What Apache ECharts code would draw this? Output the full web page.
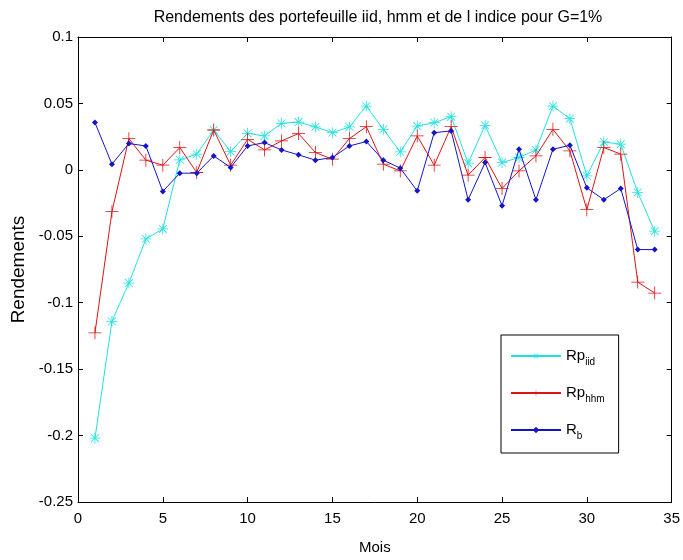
<!DOCTYPE html>
<html>
<head>
<meta charset="utf-8">
<script src="https://cdn.jsdelivr.net/npm/echarts@6/dist/echarts.min.js"></script>
<style>html,body{margin:0;padding:0;background:#fff}#c{width:683px;height:560px}</style>
</head>
<body>
<div id="c"></div>
<script>
const months = [1,2,3,4,5,6,7,8,9,10,11,12,13,14,15,16,17,18,19,20,21,22,23,24,25,26,27,28,29,30,31,32,33,34];
const rpIid = [-0.202, -0.114, -0.0852, -0.052, -0.0445, 0.0075, 0.0118, 0.030, 0.0138, 0.0275, 0.0255, 0.035, 0.036, 0.0323, 0.028, 0.0323, 0.048, 0.0305, 0.0135, 0.033, 0.0355, 0.040, 0.005, 0.0335, 0.0055, 0.0093, 0.015, 0.048, 0.0385, -0.0045, 0.021, 0.0193, -0.017, -0.0462];
const rpHhm = [-0.1227, -0.0315, 0.0235, 0.0073, 0.0035, 0.0168, -0.002, 0.030, 0.0035, 0.023, 0.015, 0.0218, 0.0273, 0.013, 0.008, 0.0235, 0.0325, 0.0043, -0.0008, 0.0255, 0.0035, 0.0325, -0.004, 0.0093, -0.014, -0.0008, 0.0105, 0.0305, 0.0143, -0.030, 0.0168, 0.0118, -0.0845, -0.0927];
const rb = [0.0356, 0.0043, 0.0198, 0.018, -0.0162, -0.0025, -0.0025, 0.0105, 0.0018, 0.018, 0.0205, 0.015, 0.0113, 0.0073, 0.0093, 0.018, 0.0213, 0.0073, 0.0013, -0.0158, 0.028, 0.0293, -0.0225, 0.0055, -0.027, 0.0155, -0.0225, 0.0155, 0.0185, -0.0135, -0.0225, -0.014, -0.060, -0.060];
const seriesNames = ['Rp_iid', 'Rp_hhm', 'R_b'];
const titleText = 'Rendements des portefeuille iid, hmm et de l indice pour G=1%';
const xName = 'Mois';
const yName = 'Rendements';

const FONT = 'Liberation Sans, Arial, sans-serif';
const plusPath = 'path://M-0.6,-10 H0.6 V-0.6 H10 V0.6 H0.6 V10 H-0.6 V0.6 H-10 V-0.6 H-0.6 Z';
const starPath = 'path://M-0.7,-10 H0.7 V-0.7 H10 V0.7 H0.7 V10 H-0.7 V0.7 H-10 V-0.7 H-0.7 Z M-7.6,-6.6 L6.6,7.6 L7.6,6.6 L-6.6,-7.6 Z M6.6,-7.6 L7.6,-6.6 L-6.6,7.6 L-7.6,6.6 Z';

const pair = arr => months.map((m, i) => [m, arr[i]]);

const chart = echarts.init(document.getElementById('c'), null, {renderer: 'canvas'});
const axisCommon = () => ({
  axisLine: {show: true, onZero: false, lineStyle: {color: '#000', width: 1}},
  axisTick: {show: true, inside: true, length: 5, lineStyle: {color: '#000'}},
  splitLine: {show: false}
});
chart.setOption({
  backgroundColor: '#fff',
  animation: false,
  title: {
    text: titleText, left: 373, top: 5, textAlign: 'center',
    textStyle: {fontFamily: FONT, fontSize: 16, fontWeight: 'normal', color: '#000'}
  },
  grid: {left: 78, right: 8, top: 37, bottom: 55, containLabel: false},
  xAxis: [
    Object.assign({type: 'value', min: 0, max: 35, interval: 5, position: 'bottom',
      name: xName, nameLocation: 'middle', nameGap: 38,
      nameTextStyle: {fontFamily: FONT, fontSize: 15, color: '#000'},
      axisLabel: {fontFamily: FONT, fontSize: 15, color: '#000', margin: 9}}, axisCommon()),
    Object.assign({type: 'value', min: 0, max: 35, interval: 5, position: 'top',
      axisLabel: {show: false}}, axisCommon())
  ],
  yAxis: [
    Object.assign({type: 'value', min: -0.25, max: 0.1, interval: 0.05, position: 'left',
      name: yName, nameLocation: 'middle', nameGap: 45, nameRotate: 90,
      nameTextStyle: {fontFamily: FONT, fontSize: 19, color: '#000'},
      axisLabel: {fontFamily: FONT, fontSize: 15, color: '#000', margin: 5}}, axisCommon()),
    Object.assign({type: 'value', min: -0.25, max: 0.1, interval: 0.05, position: 'right',
      axisLabel: {show: false}}, axisCommon())
  ],
  legend: {
    orient: 'vertical', left: 501, top: 335,
    padding: [12, 14, 12, 9], itemGap: 17, itemWidth: 50, itemHeight: 8,
    borderColor: '#000', borderWidth: 1, backgroundColor: '#fff',
    data: seriesNames,
    formatter: function (n) {
      const p = n.split('_');
      return '{m|' + p[0] + '}{s|' + p[1] + '}';
    },
    textStyle: {
      fontFamily: FONT, color: '#000',
      rich: {
        m: {fontFamily: FONT, fontSize: 15, color: '#000', lineHeight: 22, verticalAlign: 'middle'},
        s: {fontFamily: FONT, fontSize: 10, color: '#000', lineHeight: 22, verticalAlign: 'bottom', padding: [10, 0, 0, 0]}
      }
    }
  },
  series: [
    {name: seriesNames[0], type: 'line', data: pair(rpIid), symbol: starPath, symbolSize: 11,
      lineStyle: {color: '#22e0e0', width: 1}, itemStyle: {color: '#22e0e0'}, z: 2},
    {name: seriesNames[1], type: 'line', data: pair(rpHhm), symbol: plusPath, symbolSize: 13,
      lineStyle: {color: '#dd1414', width: 1}, itemStyle: {color: '#dd1414'}, z: 3},
    {name: seriesNames[2], type: 'line', data: pair(rb), symbol: 'diamond', symbolSize: 6,
      lineStyle: {color: '#1515c8', width: 1}, itemStyle: {color: '#1515c8'}, z: 4}
  ]
});
</script>
</body>
</html>
